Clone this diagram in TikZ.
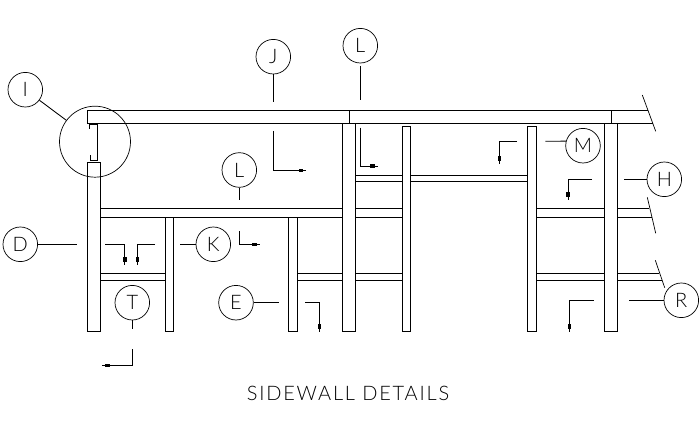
\documentclass[tikz,border=0pt]{standalone}
\usepackage{fontspec}
\setmainfont{Lato Light}
\usetikzlibrary{arrows.meta, decorations.markings}
\tikzset{
	member/.style = {draw, line width=0.85pt},
	breakline/.style = {draw, line width=0.7pt},
	leader/.style = {draw, line width=0.85pt},
	tag/.style = {
		draw,
		circle,
		line width=0.7pt,
		inner sep=0pt,
		minimum size=34.6pt,
		font={\fontsize{20}{20}\selectfont}
	},
	section/.style = {
		leader,
		postaction={decorate},
		decoration={markings, mark=at position -3pt with {\arrow{Rectangle[length=4.5pt,width=3.4pt]}}}
	}
}
\begin{document}
\begin{tikzpicture}[x=1pt, y=-1pt]
	\useasboundingbox (0,0) rectangle (700,430);

	% Roof beam
	\coordinate (beamnw) at (87.5,110.3);
	\coordinate (beamsw) at (87.5,123.3);
	\coordinate (beamne) at (648,110.3);
	\coordinate (beamse) at (652.5,123.3);
	\draw[member] (beamne) -- (beamnw) -- (beamsw) -- (beamse);
	\draw[member] (349.3,110.3) -- (349.3,123.3);
	\draw[member] (611.3,110.3) -- (611.3,123.3);

	% Posts
	\foreach \xa/\xb/\ytop in {87.3/100.3/162.3, 165.3/173.7/217.3, 288.3/297.7/217.3,
		342.3/355.7/123.3, 402.3/410.7/126.3, 527.3/536.7/126.3, 604.3/617.7/123.3}
		\draw[member] (\xa,\ytop) rectangle (\xb,331.7);

	% Girts
	\foreach \xa/\xb/\ya/\yb in {100.3/342.3/208.3/217.3, 100.3/165.3/273.3/280.3,
		297.7/342.3/273.3/280.3, 355.7/402.3/208.3/217.3, 355.7/402.3/273.3/280.3,
		355.7/402.3/175.3/181.7, 410.7/527.3/175.3/181.7,
		536.7/604.3/208.3/217.3, 536.7/604.3/273.3/280.3}
		\draw[member] (\xa,\ya) rectangle (\xb,\yb);
	\foreach \xa/\xb/\ya in {617.7/649.3/208.3, 617.7/652/217.3, 617.7/659.3/273.3, 617.7/662/280.3}
		\draw[member] (\xa,\ya) -- (\xb,\ya);

	% Channel at the eave
	\draw[member] (89.3,128.7) -- (89.3,124.7) -- (97.7,124.7) -- (97.7,160.3) -- (90.3,160.3) -- (90.3,155.3);

	% Break lines
	\draw[breakline] (642.3,95) -- (655.7,131.3);
	\draw[breakline] (647.3,197.3) -- (655.7,233.3);
	\draw[breakline] (655.3,260.3) -- (664.7,287.7);

	% Tags
	\node[tag] (tagI) at (25.3,89.7) {I};
	\node[tag, minimum size=71pt] (detailI) at (95,141.7) {};
	\foreach \tagname/\txt/\x/\y in {tagD/D/20.3/244.3, tagK/K/213.3/244.3, tagT/T/132.3/302.7,
		tagE/E/236/302.7, tagJ/J/273.3/56.7, tagLa/L/360.3/45.7, tagLb/L/239.3/170,
		tagM/M/583/145.7, tagH/H/664.3/179.3, tagR/R/681.3/300.3}
		\node[tag] (\tagname) at (\x,\y) {\txt};

	% Leaders
	\draw[leader] (tagI) -- (detailI);
	\foreach \tagname/\x/\y in {tagD/76.7/244.3, tagK/180/244.3, tagT/132.3/329.3, tagE/278.7/302.7,
		tagJ/273.3/101.7, tagLb/239.3/200, tagH/624/179.3, tagR/629/300.3}{
		\coordinate (\tagname end) at (\x,\y);
		\draw[leader] (\tagname) -- (\tagname end);
	}
	\coordinate (tagLa end) at (360.3,100);
	\draw[leader, shorten <=2.5pt] (tagLa) -- (tagLa end);
	\coordinate (tagM end) at (545.3,141.3);
	\draw[leader] (tagM.165) -- (tagM end);

	% Section marks, out first
	\foreach \mk/\xa/\ya/\xb/\yb in {sa/105/244.3/124.7/264.7, sb/155/244.3/137.3/264.7,
		sc/305/302.7/319.3/331.7, sd/517/141.3/499.3/164, se/592/179.3/568/200, sf/593.7/300.3/569.3/331.7}{
		\coordinate (\mk from) at (\xa,\ya);
		\coordinate (\mk to) at (\xb,\yb);
		\draw[section] (\mk from) -| (\mk to);
	}
	% Section marks, down first
	\foreach \mk/\xa/\ya/\xb/\yb in {sg/273.3/131/306/170.3, sh/360.3/127.7/377.7/166,
		si/239.3/231/259.7/244.3, sj/132.3/349/102/365.3}{
		\coordinate (\mk from) at (\xa,\ya);
		\coordinate (\mk to) at (\xb,\yb);
		\draw[section] (\mk from) |- (\mk to);
	}

	\node[font={\fontsize{20}{20}\selectfont\addfontfeature{LetterSpace=9}}, inner sep=0pt] (title) at (348,393.5) {SIDEWALL DETAILS};
\end{tikzpicture}
\end{document}
